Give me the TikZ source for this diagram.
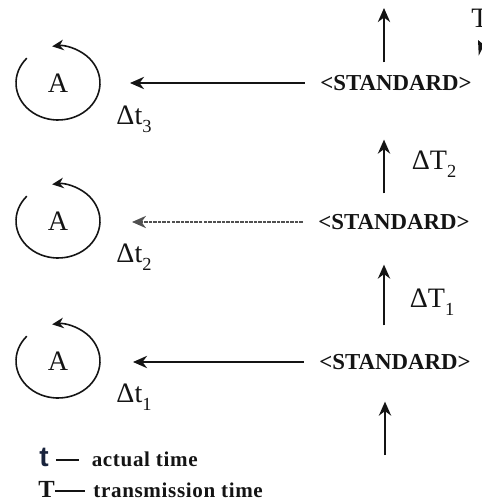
\documentclass[tikz,border=0pt]{standalone}
\usepackage{fontspec}
\setmainfont{Liberation Serif}
\newfontfamily\legendsans{Liberation Sans}
\usetikzlibrary{arrows.meta,positioning,calc}
\definecolor{ink}{RGB}{20,20,20}
\definecolor{navy}{RGB}{25,35,60}
\definecolor{fade}{RGB}{80,80,80}
\newcommand{\lowsub}[1]{\raisebox{-0.6ex}{\fontsize{10.5}{11}\selectfont #1}}
\tikzset{
  every picture/.style={color=ink, line width=0.5pt},
  clock/.style={font=\fontsize{16}{18}\selectfont, inner sep=0pt},
  stdbox/.style={font=\fontsize{13}{15}\selectfont\bfseries, inner sep=0pt},
  flow/.style={-{Stealth[length=8pt,width=7pt]}, line width=1.1pt},
  faint/.style={flow, line width=0.9pt, dash pattern=on 2pt off 0.6pt, color=fade},
  spin/.style={-{Stealth[length=6.5pt,width=6pt]}, line width=0.9pt},
  lbl/.style={font=\fontsize{16}{18}\selectfont, inner sep=0pt},
  note/.style={font=\fontsize{12}{14}\selectfont\bfseries\addfontfeatures{LetterSpace=3}, inner sep=0pt, anchor=base west},
}

\begin{document}
\begin{tikzpicture}[x=0.02cm, y=-0.02cm]
  \useasboundingbox (0,0) rectangle (481,504);
  % the three standards
  \node[stdbox] (std3) at (396,83) {<STANDARD>};
  \node[stdbox] (std2) at (394,222) {<STANDARD>};
  \node[stdbox] (std1) at (395,362) {<STANDARD>};
  % clocks
  \foreach \n/\y in {3/83, 2/221, 1/361} {
    \node[clock] (a\n) at (58,\y) {A};
    \draw[spin] (a\n) ++(-138:42 and 37) arc[start angle=-138, end angle=-458, x radius=42, y radius=37];
  }
  \coordinate (in3) at (130,83);
  \coordinate (in2) at (132,222);
  \coordinate (in1) at (133,362);
  \draw[flow, shorten <=0.3cm] (std3) -- (in3);
  \draw[faint, shorten <=0.3cm] (std2) -- (in2);
  \draw[flow, shorten <=0.3cm] (std1) -- (in1);
  % transmission arrows
  \coordinate (col) at (384,0);
  \coordinate (top) at (384,8);
  \coordinate (bot) at (385,455);
  \draw[flow, shorten <=0.25cm] (std3.north -| top) -- (top);
  \draw[flow, shorten <=0.41cm, shorten >=0.97cm] (std2.north -| col) -- (std3.south -| col);
  \draw[flow, shorten <=0.57cm, shorten >=0.69cm] (std1.north -| col) -- (std2.south -| col);
  \draw[flow, shorten >=0.63cm] (bot) -- (std1.south -| bot);
  \node[lbl] (dT2) at (434,164) {ΔT\lowsub{2}};
  \node[lbl] (dT1) at (432,302) {ΔT\lowsub{1}};
  \node[lbl] (dt3) at (134,119) {Δt\lowsub{3}};
  \node[lbl] (dt2) at (134,257) {Δt\lowsub{2}};
  \node[lbl] (dt1) at (134,397) {Δt\lowsub{1}};
  % cut off at the right edge
  \node[lbl, anchor=west] (cut) at (471,18) {T};
  \coordinate (cutlo) at (486,56);
  \coordinate (cuthi) at (478,40);
  \draw[flow] (cutlo) -- (cuthi);
  % legend
  \node[note] (key1) at (39,466) {{\legendsans\bfseries\fontsize{16}{16}\selectfont\color{navy}t}\hspace{4pt}\rule[0.55ex]{13pt}{0.9pt}\hspace{7.5pt}actual time};
  \node[note] (key2) at (38,497) {{\fontsize{14}{14}\selectfont T}\rule[0.55ex]{17pt}{0.9pt}\hspace{5pt}transmission time};
\end{tikzpicture}
\end{document}
